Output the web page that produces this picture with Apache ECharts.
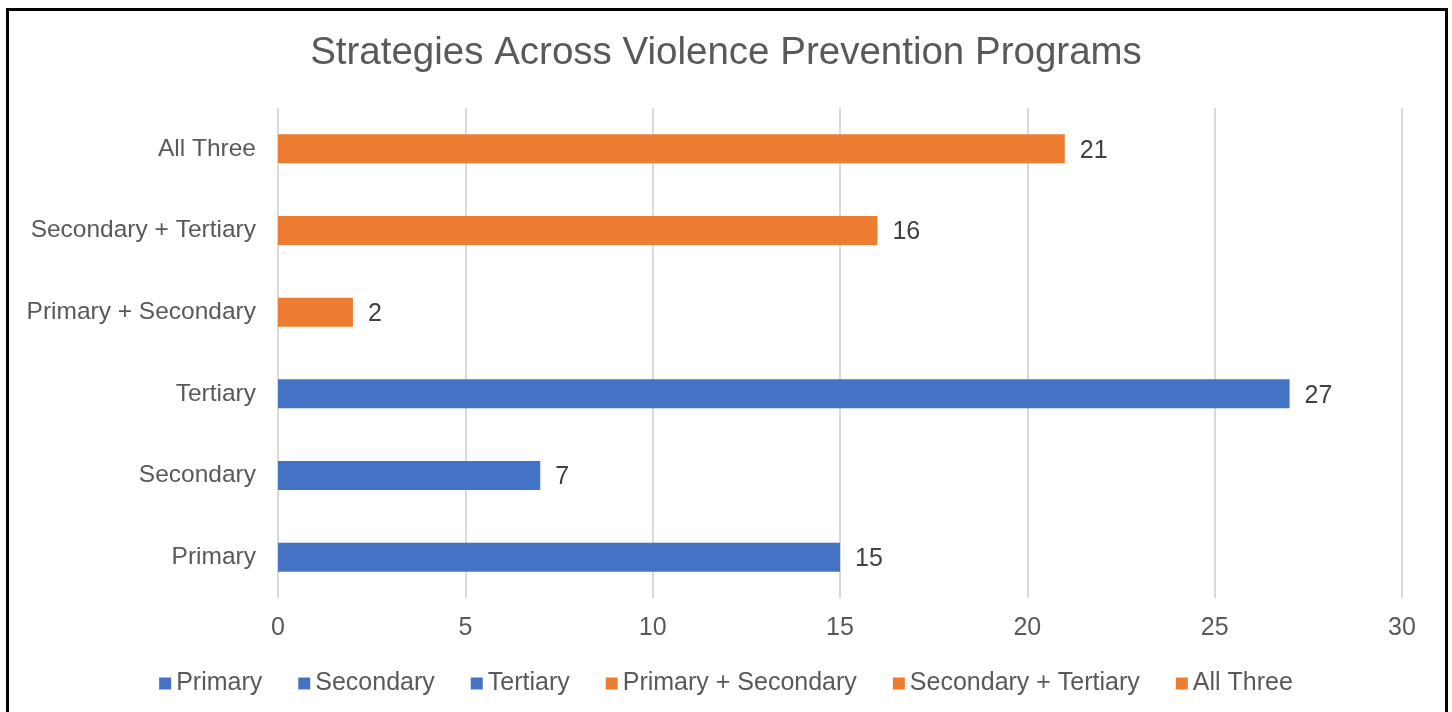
<!DOCTYPE html>
<html>
<head>
<meta charset="utf-8">
<script src="https://cdn.jsdelivr.net/npm/echarts@6/dist/echarts.min.js"></script>
<style>
  html, body { margin: 0; padding: 0; background: #fff; }
  #chart { width: 1452px; height: 712px; }
</style>
</head>
<body>
<div id="chart"></div>
<script>
const titleText = "Strategies Across Violence Prevention Programs";
const categories = ["Primary", "Secondary", "Tertiary", "Primary + Secondary", "Secondary + Tertiary", "All Three"];
const values = [15, 7, 27, 2, 16, 21];
const xTicks = { min: 0, max: 30, interval: 5 };

const palette = ["#4472C4", "#4472C4", "#4472C4", "#ED7D31", "#ED7D31", "#ED7D31"];
const FONT = "'Liberation Sans', Arial, sans-serif";

const series = categories.map((name, i) => ({
  name: name,
  type: 'bar',
  stack: 'all',
  barWidth: 29,
  itemStyle: { color: palette[i] },
  label: {
    show: true,
    position: 'right',
    distance: 15,
    color: '#404040',
    fontSize: 25,
    fontFamily: FONT,
    offset: [0, 2]
  },
  data: categories.map((c, j) => (j === i ? values[i] : null))
}));

const chart = echarts.init(document.getElementById('chart'));
chart.setOption({
  animation: false,
  backgroundColor: '#fff',
  textStyle: { fontFamily: FONT },
  graphic: [{
    type: 'rect',
    shape: { x: 7.5, y: 9.5, width: 1439, height: 730 },
    style: { fill: 'none', stroke: '#000', lineWidth: 3 },
    silent: true
  }],
  title: {
    text: titleText,
    left: 'center',
    top: 34,
    padding: 0,
    textStyle: { color: '#595959', fontSize: 38.5, fontWeight: 'normal', fontFamily: FONT }
  },
  legend: {
    left: 'center',
    top: 666,
    icon: 'rect',
    itemWidth: 12,
    itemHeight: 12,
    itemGap: 36,
    textStyle: { color: '#595959', fontSize: 25, fontFamily: FONT },
    data: categories
  },
  grid: { left: 278, right: 50, top: 108, bottom: 114, containLabel: false },
  xAxis: {
    type: 'value',
    min: xTicks.min,
    max: xTicks.max,
    interval: xTicks.interval,
    axisLine: { show: false },
    axisTick: { show: false },
    axisLabel: { color: '#595959', fontSize: 25, margin: 18, fontFamily: FONT },
    splitLine: { show: true, lineStyle: { color: '#d9d9d9', width: 2 } }
  },
  yAxis: {
    type: 'category',
    data: categories,
    axisLine: { show: false },
    axisTick: { show: false },
    axisLabel: { color: '#595959', fontSize: 24.5, margin: 22, fontFamily: FONT, padding: [4, 0, 0, 0] },
    splitLine: { show: false }
  },
  series: series
});
</script>
</body>
</html>
